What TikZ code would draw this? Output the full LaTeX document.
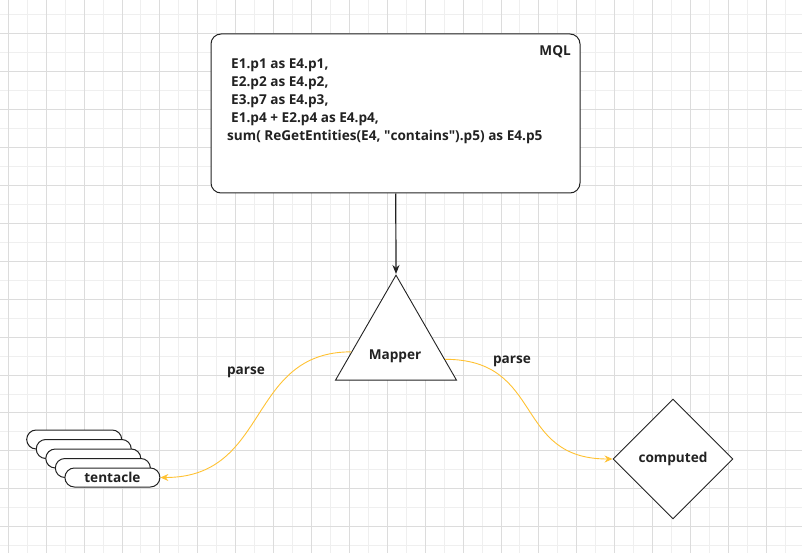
\documentclass[tikz,border=0pt]{standalone}
\usepackage{fontspec}
\setmainfont{Open Sans}
\usetikzlibrary{shapes.geometric,shapes.misc,arrows.meta,calc}

\definecolor{gridminor}{HTML}{EFEFEF}
\definecolor{gridmajor}{HTML}{DCDCDC}
\definecolor{parsecol}{HTML}{FFC233}
\definecolor{inkcol}{HTML}{222222}

\tikzset{
  txt/.style={font=\bfseries\fontsize{13.6}{18}\selectfont, text=inkcol, inner sep=0pt},
  mqlbox/.style={draw=inkcol, fill=white, rounded corners=10pt, line width=1pt,
    minimum width=369pt, minimum height=159pt, inner sep=0pt},
  mapperbox/.style={draw=inkcol, fill=white, isosceles triangle, isosceles triangle stretches,
    shape border rotate=90, minimum width=121pt, minimum height=105pt, inner sep=0pt, line width=0.9pt},
  tentbox/.style={draw=inkcol, fill=white, rounded rectangle, minimum width=95pt,
    minimum height=19pt, inner sep=0pt, line width=1pt, txt},
  compbox/.style={draw=inkcol, fill=white, diamond, minimum width=120pt, minimum height=120pt,
    inner sep=0pt, line width=0.9pt, txt},
  parseline/.style={draw=parsecol, line width=0.9pt, -{Stealth[length=8pt, width=7pt]}}
}

\begin{document}
\begin{tikzpicture}[x=1pt, y=-1pt]
    \useasboundingbox (0,0) rectangle (802,553);
    % background grid
    \begin{scope}
        \clip (0,0) rectangle (802,553);
        \foreach \k in {0,...,42} \draw[gridminor, line width=1pt] ({8.3+18.95*\k},0) -- ({8.3+18.95*\k},553);
        \foreach \k in {0,...,29} \draw[gridminor, line width=1pt] (0,{15+18.95*\k}) -- (802,{15+18.95*\k});
        \foreach \k in {0,...,21} \draw[gridmajor, line width=1pt] ({8.3+37.9*\k},0) -- ({8.3+37.9*\k},553);
        \foreach \k in {0,...,14} \draw[gridmajor, line width=1pt] (0,{33.95+37.9*\k}) -- (802,{33.95+37.9*\k});
    \end{scope}

    % MQL query box
    \node[mqlbox] (mql) at (395.5,113.5) {};
    \node[txt, anchor=east] (mqltitle) at (571,51.5) {MQL};
    \node[txt, anchor=north west, align=left] (query) at (227,58.5)
        {\hspace*{4pt}E1.p1 as E4.p1,\\
         \hspace*{4pt}E2.p2 as E4.p2,\\
         \hspace*{4pt}E3.p7 as E4.p3,\\
         \hspace*{4pt}E1.p4 + E2.p4 as E4.p4,\\
         sum( ReGetEntities(E4, \textquotedbl contains\textquotedbl).p5) as E4.p5};

    % mapper
    \node[mapperbox, anchor=apex] (mapper) at (396,274) {};
    \node[txt] (mappertext) at (395,356.5) {Mapper};
    \draw[-{Stealth[length=9pt, width=7pt]}, line width=1.2pt, inkcol] (mql) -- (mapper.apex);

    % tentacle stack
    \foreach \i in {0,...,3}
        \node[tentbox] (tent\i) at ({74.2+9.55*\i},{439.5+9.5*\i}) {};
    \node[tentbox] (tentacle) at (112.4,477.5) {tentacle};

    % computed
    \node[compbox] (computed) at (673,459) {computed};

    % parse links
    \draw[parseline] ($(mapper.apex)!0.73!(mapper.left corner)$)
        .. controls +(-105,0) and +(110,0) .. (tentacle.east);
    \draw[parseline] ($(mapper.apex)!0.8!(mapper.right corner)$)
        .. controls +(100,0) and +(-100,0) .. (computed.west);
    \node[txt] (parseleft) at (246,372.5) {parse};
    \node[txt] (parseright) at (512,361.5) {parse};
\end{tikzpicture}
\end{document}
